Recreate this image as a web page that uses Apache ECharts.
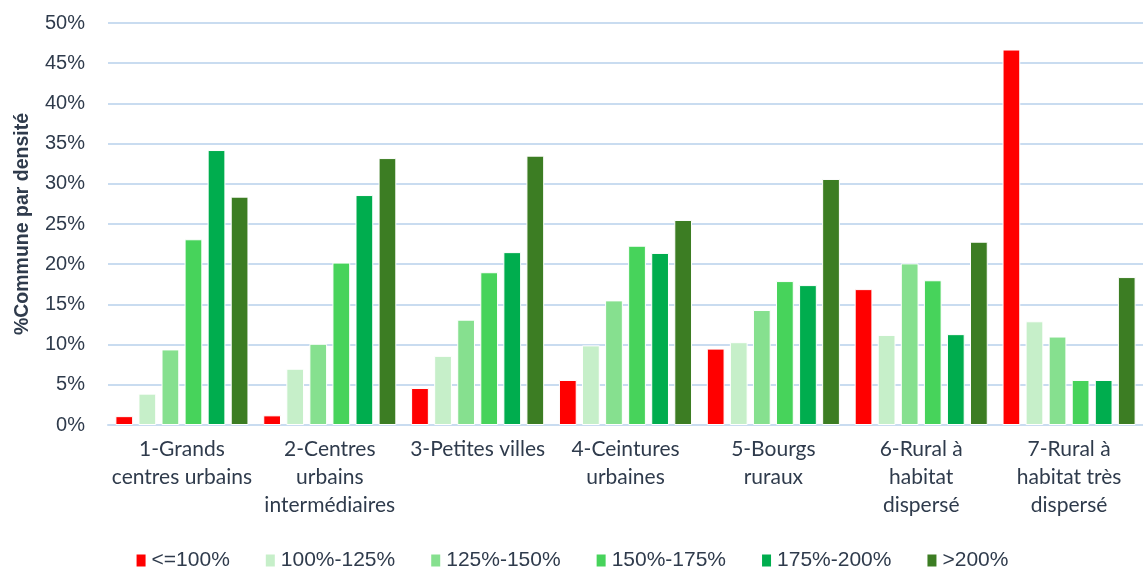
<!DOCTYPE html>
<html>
<head>
    <meta charset="utf-8">
    <title>Commune par densité</title>
    <script src="https://cdn.jsdelivr.net/npm/echarts@6/dist/echarts.min.js"></script>
    <style>
        html, body { margin: 0; padding: 0; background: #fff; }
        #main { width: 1143px; height: 570px; }
    </style>
</head>
<body>
    <div id="main"></div>
    <script type="text/javascript">
        // categories and series
        var categories = [
            '1-Grands\ncentres urbains',
            '2-Centres\nurbains\nintermédiaires',
            '3-Petites villes',
            '4-Ceintures\nurbaines',
            '5-Bourgs\nruraux',
            '6-Rural à\nhabitat\ndispersé',
            '7-Rural à\nhabitat très\ndispersé'
        ];
        var seriesNames = ['<=100%', '100%-125%', '125%-150%', '150%-175%', '175%-200%', '>200%'];
        var colors = ['#ff0000', '#c6efc9', '#86e08f', '#47d35b', '#00ad4e', '#3c7d23'];

        var d100 = [1.1, 1.2, 4.6, 5.6, 9.5, 16.9, 46.7];
        var d125 = [3.9, 7.0, 8.6, 9.9, 10.3, 11.2, 12.9];
        var d150 = [9.4, 10.1, 13.1, 15.5, 14.3, 20.1, 11.0];
        var d175 = [23.1, 20.2, 19.0, 22.3, 17.9, 18.0, 5.6];
        var d200 = [34.2, 28.6, 21.5, 21.4, 17.4, 11.3, 5.6];
        var dOver = [28.4, 33.2, 33.5, 25.5, 30.6, 22.8, 18.4];
        var allData = [d100, d125, d150, d175, d200, dOver];

        var txt = '#2f3b4c';
        var font = 'Liberation Sans';

        var series = [];
        for (var i = 0; i < seriesNames.length; i++) {
            series.push({
                name: seriesNames[i],
                type: 'bar',
                data: allData[i],
                barGap: '30%',
                barCategoryGap: '10%',
                itemStyle: { color: colors[i], borderColor: '#ffffff', borderWidth: 1 }
            });
        }

        var myChart = echarts.init(document.getElementById('main'));
        var option = {
            animation: false,
            textStyle: { fontFamily: font },
            grid: { left: 108, right: 0, top: 23, bottom: 145 },
            legend: {
                top: 545,
                left: 'center',
                itemWidth: 11,
                itemHeight: 14,
                itemGap: 34,
                icon: 'rect',
                textStyle: { fontSize: 21, color: txt, fontFamily: font },
                data: seriesNames
            },
            xAxis: {
                type: 'category',
                data: categories,
                axisLine: { lineStyle: { color: '#c9dcf0', width: 2 } },
                axisTick: { show: false },
                axisLabel: { fontSize: 21, fontFamily: 'Lato', color: txt, lineHeight: 28, margin: 10, interval: 0 }
            },
            yAxis: {
                type: 'value',
                min: 0,
                max: 50,
                interval: 5,
                name: '%Commune par densité',
                nameLocation: 'middle',
                nameGap: 75,
                nameTextStyle: { fontSize: 19.5, fontWeight: 'bold', color: txt },
                axisLabel: { fontSize: 20, color: txt, formatter: '{value}%', margin: 23 },
                splitLine: { lineStyle: { color: '#c9dcf0', width: 2 } }
            },
            series: series
        };
        myChart.setOption(option);
    </script>
</body>
</html>
